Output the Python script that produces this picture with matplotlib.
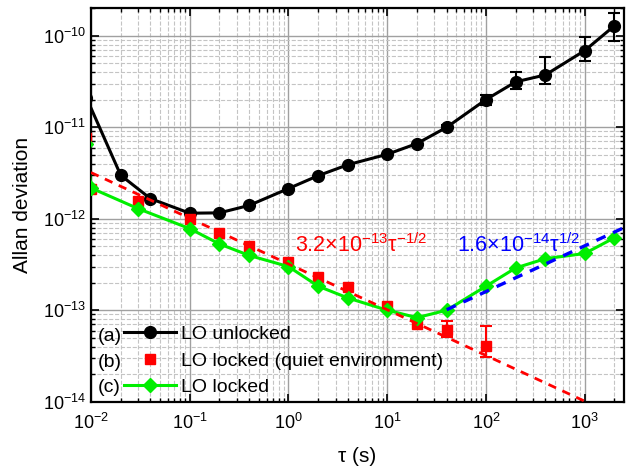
import matplotlib
matplotlib.use("Agg")
import matplotlib.pyplot as plt
import numpy as np
from matplotlib.ticker import LogLocator, NullFormatter, FixedLocator

plt.rcParams['font.family'] = ['Liberation Sans', 'DejaVu Sans']
plt.rcParams['mathtext.fontset'] = 'custom'
plt.rcParams['mathtext.rm'] = 'Liberation Sans'
plt.rcParams['mathtext.it'] = 'Liberation Sans:italic'
plt.rcParams['mathtext.bf'] = 'Liberation Sans:bold'

# (a) LO unlocked
tau_a = [0.009, 0.02, 0.04, 0.1, 0.2, 0.4, 1, 2, 4, 10, 20, 40, 100, 200, 400, 1000, 2000]
adev_a = [2.1e-11, 2.99e-12, 1.66e-12, 1.15e-12, 1.16e-12, 1.40e-12, 2.14e-12, 2.96e-12,
          3.9e-12, 5.07e-12, 6.64e-12, 1.0e-11, 2.01e-11, 3.14e-11, 3.74e-11, 6.9e-11, 1.29e-10]
tau_a_err = [40, 100, 200, 400, 1000, 2000]
val_a_err = [1.0e-11, 2.01e-11, 3.14e-11, 3.74e-11, 6.9e-11, 1.29e-10]
lo_a = [0.95e-11, 1.77e-11, 2.59e-11, 3.0e-11, 5.37e-11, 8.7e-11]
hi_a = [1.06e-11, 2.28e-11, 4.05e-11, 5.83e-11, 9.6e-11, 1.78e-10]

# (b) LO locked (quiet environment)
tau_b = [0.009, 0.01, 0.03, 0.1, 0.2, 0.4, 1, 2, 4, 10, 20, 40, 100]
adev_b = [7.7e-12, 2.1e-12, 1.55e-12, 1.0e-12, 7.0e-13, 5.0e-13, 3.33e-13, 2.3e-13,
          1.78e-13, 1.12e-13, 7.0e-14, 6.1e-14, 4.07e-14]
tau_b_err = [40, 100]
val_b_err = [6.1e-14, 4.07e-14]
lo_b = [5.1e-14, 3.1e-14]
hi_b = [7.7e-14, 6.7e-14]

# (c) LO locked
tau_c = [0.009, 0.01, 0.03, 0.1, 0.2, 0.4, 1, 2, 4, 10, 20, 40, 100, 200, 400, 1000, 2000]
adev_c = [6.5e-12, 2.17e-12, 1.29e-12, 7.8e-13, 5.3e-13, 3.97e-13, 3.0e-13, 1.83e-13,
          1.36e-13, 1.0e-13, 8.3e-14, 1.0e-13, 1.83e-13, 2.9e-13, 3.66e-13, 4.17e-13, 6.2e-13]

# fits
coef_red = 3.2e-13
coef_blue = 1.6e-14

xticks = [1e-2, 1e-1, 1e0, 1e1, 1e2, 1e3]
yticks = [1e-14, 1e-13, 1e-12, 1e-11, 1e-10]

fig = plt.figure(figsize=(6.44, 4.72), dpi=100)
ax = fig.add_axes([0.1413, 0.149, 0.8277, 0.8334])

ax.plot(tau_a, adev_a, '-o', color='black', lw=2.2, ms=8.5, label='LO unlocked', zorder=3)
ax.errorbar(tau_a_err, val_a_err,
            yerr=[np.array(val_a_err) - np.array(lo_a), np.array(hi_a) - np.array(val_a_err)],
            fmt='none', ecolor='black', elinewidth=1.5, capsize=4, capthick=1.5, zorder=3)

ax.plot(tau_b, adev_b, 's', color='#ff0000', ms=7, label='LO locked (quiet environment)', zorder=3)
ax.errorbar(tau_b_err, val_b_err,
            yerr=[np.array(val_b_err) - np.array(lo_b), np.array(hi_b) - np.array(val_b_err)],
            fmt='none', ecolor='#ff0000', elinewidth=1.5, capsize=4, capthick=1.5, zorder=3)

ax.plot(tau_c, adev_c, '-D', color='#00ee00', lw=2.2, ms=7, label='LO locked', zorder=4)

t_red = np.logspace(-2, np.log10(2500), 50)
ax.plot(t_red, coef_red * t_red ** -0.5, '--', color='#ff0000', lw=2, dashes=(3, 2.5), zorder=5)
t_blue = np.logspace(np.log10(40), np.log10(2500), 20)
ax.plot(t_blue, coef_blue * t_blue ** 0.5, '--', color='#0000ff', lw=2.4, dashes=(3, 2.5), zorder=5)

ax.text(0.383, 0.38, '3.2×10$^{-13}$τ$^{-1/2}$', color='#ff0000', fontsize=15.5,
        transform=ax.transAxes, va='baseline')
ax.text(0.686, 0.38, '1.6×10$^{-14}$τ$^{1/2}$', color='#0000ff', fontsize=15.5,
        transform=ax.transAxes, va='baseline')

ax.set_xscale('log')
ax.set_yscale('log')
ax.set_xlim(0.01, 2500)
ax.set_ylim(1e-14, 2e-10)

ax.xaxis.set_major_locator(FixedLocator(xticks))
ax.yaxis.set_major_locator(FixedLocator(yticks))
for axis in (ax.xaxis, ax.yaxis):
    axis.set_minor_locator(LogLocator(base=10, subs=np.arange(2, 10), numticks=20))
    axis.set_minor_formatter(NullFormatter())

ax.tick_params(which='both', direction='in', top=True, right=True, labelsize=13)
ax.tick_params(which='major', length=6, width=1.2)
ax.tick_params(which='minor', length=3, width=1)
ax.tick_params(axis='x', which='major', pad=8)
for s in ax.spines.values():
    s.set_linewidth(1.6)

ax.grid(True, which='major', color='#a0a0a0', lw=1, ls='-')
ax.grid(True, which='minor', color='#c4c4c4', lw=0.8, ls='--')
ax.set_axisbelow(True)

ax.set_xlabel('τ (s)', fontsize=15, labelpad=10)
ax.set_ylabel('Allan deviation', fontsize=15, labelpad=8)

leg = ax.legend(loc='lower left', bbox_to_anchor=(0.04, -0.015), frameon=False, fontsize=14,
                handlelength=2.7, handletextpad=0.25, labelspacing=0.45, borderaxespad=0.2)

for lab, yf in zip(['(a)', '(b)', '(c)'], [0.165, 0.100, 0.035]):
    ax.text(0.012, yf, lab, fontsize=14, transform=ax.transAxes, va='center')

fig.savefig('out.png', dpi=100)
